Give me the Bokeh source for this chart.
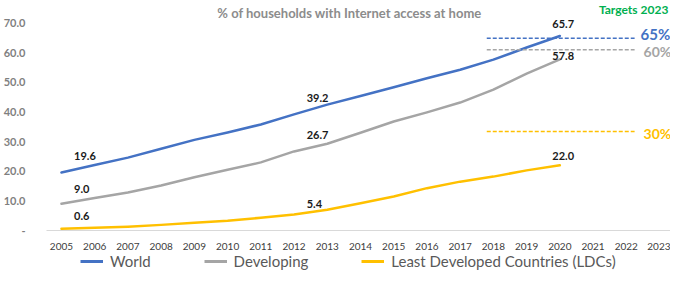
from bokeh.plotting import figure
from bokeh.models import (FixedTicker, Legend, LegendItem, Label, Range1d)
from bokeh.layouts import column
from bokeh.embed import file_html
from bokeh.resources import INLINE

# ---------------- data ----------------
years = list(range(2005, 2021))
world = [19.6, 22.1, 24.6, 27.6, 30.6, 33.1, 35.8, 39.2, 42.5, 45.4, 48.4, 51.4, 54.3, 57.7, 61.8, 65.7]
developing = [9.0, 11.0, 12.8, 15.2, 18.0, 20.5, 23.0, 26.7, 29.3, 33.0, 36.8, 39.9, 43.2, 47.6, 53.0, 57.8]
ldc = [0.6, 0.9, 1.3, 1.9, 2.6, 3.3, 4.3, 5.4, 7.0, 9.2, 11.5, 14.3, 16.5, 18.2, 20.3, 22.0]
series_names = ["World", "Developing", "Least Developed Countries (LDCs)"]
labelled_years = [2005, 2012, 2020]

target_text = ["65%", "60%", "30%"]
target_level = [64.9, 61.0, 33.4]          # where each target line is drawn
target_span = [2017.8, 2022.25]             # years covered by the dashed target lines
target_title = "Targets 2023"
chart_title = "% of households with Internet access at home"

axis_years = list(range(2005, 2024))
y_ticks = [0, 10, 20, 30, 40, 50, 60, 70]

# ---------------- styles ----------------
colors = ["#4472C4", "#A5A5A5", "#FFC000"]
FONT = "Lato"
# label offsets (value units) above each labelled point, per series
label_dy = [[5.7, 5.4, 4.0], [5.1, 5.4, 1.0], [4.4, 3.7, 3.2]]
target_dy = [1.4, -0.6, -0.7]
target_dx = [0.18, 0.27, 0.27]
target_size = ["15px", "14px", "14px"]

p = figure(width=670, height=252, output_backend="svg", toolbar_location=None,
           x_range=Range1d(2004.55, 2023.33), y_range=Range1d(0, 77.67),
           min_border_left=44, min_border_right=0, min_border_top=0,
           min_border_bottom=19)
p.outline_line_color = None
p.xgrid.visible = False
p.ygrid.visible = False
p.background_fill_color = "white"
p.border_fill_color = "white"

# axes
p.xaxis.ticker = FixedTicker(ticks=axis_years)
p.xaxis.axis_line_color = "#D9D9D9"
p.xaxis.axis_line_width = 1
p.xaxis.major_tick_line_color = None
p.xaxis.minor_tick_line_color = None
p.xaxis.major_label_standoff = 6
p.xaxis.major_label_text_font = FONT
p.xaxis.major_label_text_font_size = "10px"
p.xaxis.major_label_text_color = "#404040"

p.yaxis.ticker = FixedTicker(ticks=y_ticks)
p.yaxis.axis_line_color = None
p.yaxis.major_tick_line_color = None
p.yaxis.minor_tick_line_color = None
p.yaxis.major_label_standoff = 15
p.yaxis.major_label_text_font = FONT
p.yaxis.major_label_text_font_style = "bold"
p.yaxis.major_label_text_font_size = "11px"
p.yaxis.major_label_text_color = "#7F7F7F"
p.yaxis.major_label_overrides = {t: ("-" if t == 0 else f"{t:.1f}") for t in y_ticks}

# series lines
all_series = [world, developing, ldc]
for vals, c in zip(all_series, colors):
    p.line(years, vals, line_color=c, line_width=2.5, line_join="round", line_cap="round")

# data labels
for s, vals in enumerate(all_series):
    for k, yr in enumerate(labelled_years):
        v = vals[years.index(yr)]
        if yr == years[-1]:
            x, align = yr + 0.1, "center"
        else:
            x, align = yr + 0.38, "left"
        p.add_layout(Label(x=x, y=v + label_dy[s][k], text=f"{v:.1f}",
                           text_align=align, text_baseline="middle",
                           text_font=FONT, text_font_style="bold",
                           text_font_size="11px", text_color="#1A1A1A"))

# target lines and labels
for lvl, c in zip(target_level, colors):
    p.line(target_span, [lvl, lvl], line_color=c, line_width=1.5, line_dash="4 2")
for lvl, txt, c, dy, dx, fs in zip(target_level, target_text, colors,
                                   target_dy, target_dx, target_size):
    p.add_layout(Label(x=target_span[1] + dx, y=lvl + dy, text=txt,
                       text_align="left", text_baseline="middle",
                       text_font=FONT, text_font_style="bold",
                       text_font_size=fs, text_color=c))

p.add_layout(Label(x=2022.22, y=74.6, text=target_title, text_align="center",
                   text_baseline="middle", text_font=FONT, text_font_style="bold",
                   text_font_size="12px", text_color="#00B050"))

# chart title
p.add_layout(Label(x=2013.67, y=73.6, text=chart_title, text_align="center",
                   text_baseline="alphabetic", text_font=FONT, text_font_style="bold",
                   text_font_size="13px", text_color="#8C8C8C"))

# legend strip below the chart (series drawn outside its view, only swatches show)
lg = figure(width=670, height=18, output_backend="svg", toolbar_location=None,
            x_range=Range1d(0, 1), y_range=Range1d(0, 1),
            x_axis_location=None, y_axis_location=None,
            min_border_left=0, min_border_right=0, min_border_top=0, min_border_bottom=0)
lg.outline_line_color = None
lg.xgrid.visible = False
lg.ygrid.visible = False
swatches = [lg.line(years, vals, line_color=c, line_width=3) for vals, c in zip(all_series, colors)]
legend = Legend(items=[LegendItem(label=n, renderers=[r]) for n, r in zip(series_names, swatches)],
                orientation="horizontal", location=(34, 0),
                glyph_width=23, glyph_height=16, label_standoff=7, spacing=53,
                padding=0, margin=0, border_line_color=None, background_fill_alpha=0,
                label_text_font=FONT, label_text_font_size="15px",
                label_height=16, label_text_color="#595959")
lg.add_layout(legend, "center")

layout = column(p, lg, spacing=0)
open("out.html", "w").write(file_html(layout, INLINE))
